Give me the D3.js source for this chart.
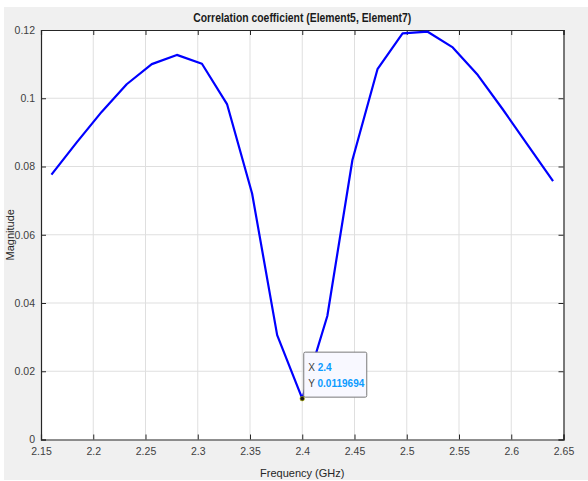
<!DOCTYPE html>
<html>
<head>
<meta charset="utf-8">
<script src="https://cdn.jsdelivr.net/npm/d3@7"></script>
<style>
  body { margin: 0; background: #fff; }
  text { font-family: "Liberation Sans", Arial, sans-serif; }
</style>
</head>
<body>
<div id="chart"></div>
<script>
// frequency (GHz) and magnitude of the correlation coefficient
var freq = [2.160, 2.184, 2.208, 2.232, 2.256, 2.280, 2.304, 2.328, 2.352, 2.376, 2.400,
            2.424, 2.448, 2.472, 2.496, 2.520, 2.544, 2.568, 2.592, 2.616, 2.640];
var magnitude = [0.0776, 0.0870, 0.0960, 0.1041, 0.1100, 0.1127, 0.1101, 0.0983, 0.0721, 0.0306, 0.0119694,
                 0.0362, 0.0819, 0.1085, 0.1190, 0.1195, 0.1149, 0.1068, 0.0967, 0.0862, 0.0757];
var xTicks = [2.15, 2.2, 2.25, 2.3, 2.35, 2.4, 2.45, 2.5, 2.55, 2.6, 2.65];
var yTicks = [0, 0.02, 0.04, 0.06, 0.08, 0.1, 0.12];
var tipX = 2.4, tipY = 0.0119694;

var W = 588, H = 481;
var margin = { top: 30, right: 24.5, bottom: 41.5, left: 41 },
  width = W - margin.left - margin.right,
  height = H - margin.top - margin.bottom;

var data = freq.map(function (f, i) { return { x: f, y: magnitude[i] }; });

var x = d3.scaleLinear().domain([2.15, 2.65]).range([0, width]);
var y = d3.scaleLinear().domain([0, 0.12]).range([height, 0]);

var svg = d3.select("#chart").append("svg")
  .attr("width", W)
  .attr("height", H);

// figure background
svg.append("rect")
  .attr("x", 4).attr("y", 7)
  .attr("width", W - 4).attr("height", H - 8)
  .attr("fill", "#f0f0f0");

var g = svg.append("g")
  .attr("transform", "translate(" + margin.left + "," + margin.top + ")");

g.append("rect")
  .attr("width", width).attr("height", height)
  .attr("fill", "#fff");

// grid
g.append("g").selectAll("line.vg")
  .data(xTicks.slice(1, -1)).enter().append("line")
  .attr("x1", function (d) { return x(d); }).attr("x2", function (d) { return x(d); })
  .attr("y1", 0).attr("y2", height)
  .attr("stroke", "#dfdfdf").attr("stroke-width", 1);
g.append("g").selectAll("line.hg")
  .data(yTicks.slice(1, -1)).enter().append("line")
  .attr("y1", function (d) { return y(d); }).attr("y2", function (d) { return y(d); })
  .attr("x1", 0).attr("x2", width)
  .attr("stroke", "#dfdfdf").attr("stroke-width", 1);

// axes (ticks inward, box on)
var axisColor = "#262626";
var xAxis = d3.axisBottom(x).tickValues(xTicks).tickSize(-5).tickPadding(8)
  .tickFormat(function (d) { return d3.format("")(+d.toFixed(2)); });
var yAxis = d3.axisLeft(y).tickValues(yTicks).tickSize(-5).tickPadding(6)
  .tickFormat(function (d) { return d3.format("")(+d.toFixed(2)); });

var gx = g.append("g").attr("transform", "translate(0," + height + ")").call(xAxis);
var gy = g.append("g").call(yAxis);
var gxt = g.append("g").call(d3.axisTop(x).tickValues(xTicks).tickSize(-5).tickFormat(""));
var gyr = g.append("g").attr("transform", "translate(" + width + ",0)")
  .call(d3.axisRight(y).tickValues(yTicks).tickSize(-5).tickFormat(""));

[gx, gy, gxt, gyr].forEach(function (a) {
  a.select(".domain").attr("stroke", axisColor).attr("stroke-width", 1.2);
  a.selectAll(".tick line").attr("stroke", axisColor);
  a.selectAll(".tick text")
    .attr("fill", "#404040")
    .style("font-size", "10.5px")
    .style("font-family", "'Liberation Sans', Arial, sans-serif");
});

// line
g.append("path")
  .datum(data)
  .attr("fill", "none")
  .attr("stroke", "#0000ff")
  .attr("stroke-width", 2.2)
  .attr("stroke-linejoin", "round")
  .attr("d", d3.line()
    .x(function (d) { return x(d.x); })
    .y(function (d) { return y(d.y); }));

// data tip
var px = x(tipX), py = y(tipY);
var tip = g.append("g").attr("transform", "translate(" + (px + 1.5) + "," + (py - 46.5) + ")");
tip.append("rect")
  .attr("width", 63).attr("height", 45)
  .attr("rx", 1.5)
  .attr("fill", "#f8f8ff")
  .attr("stroke", "#7a7a7a")
  .attr("stroke-width", 1);
var t1 = tip.append("text").attr("x", 4.5).attr("y", 19).style("font-size", "10px");
t1.append("tspan").attr("fill", "#404040").text("X ");
t1.append("tspan").attr("fill", "#0a9bff").attr("font-weight", "bold").text("2.4");
var t2 = tip.append("text").attr("x", 4.5).attr("y", 35).style("font-size", "10px");
t2.append("tspan").attr("fill", "#404040").text("Y ");
t2.append("tspan").attr("fill", "#0a9bff").attr("font-weight", "bold").text("0.0119694");
g.append("circle")
  .attr("cx", px).attr("cy", py).attr("r", 2.3)
  .attr("fill", "#1a1a1a")
  .attr("stroke", "#c8c800").attr("stroke-width", 0.6);

// title and labels
svg.append("text")
  .attr("x", margin.left + width / 2).attr("y", 22)
  .attr("text-anchor", "middle")
  .attr("font-weight", "bold")
  .attr("fill", "#1a1a1a")
  .attr("textLength", 218)
  .attr("lengthAdjust", "spacingAndGlyphs")
  .style("font-size", "12.5px")
  .text("Correlation coefficient (Element5, Element7)");

svg.append("text")
  .attr("x", margin.left + width / 2).attr("y", 477)
  .attr("text-anchor", "middle")
  .attr("fill", "#262626")
  .style("font-size", "11px")
  .text("Frequency (GHz)");

svg.append("text")
  .attr("transform", "translate(14," + (margin.top + height / 2) + ") rotate(-90)")
  .attr("text-anchor", "middle")
  .attr("fill", "#262626")
  .style("font-size", "11px")
  .text("Magnitude");
</script>
</body>
</html>
